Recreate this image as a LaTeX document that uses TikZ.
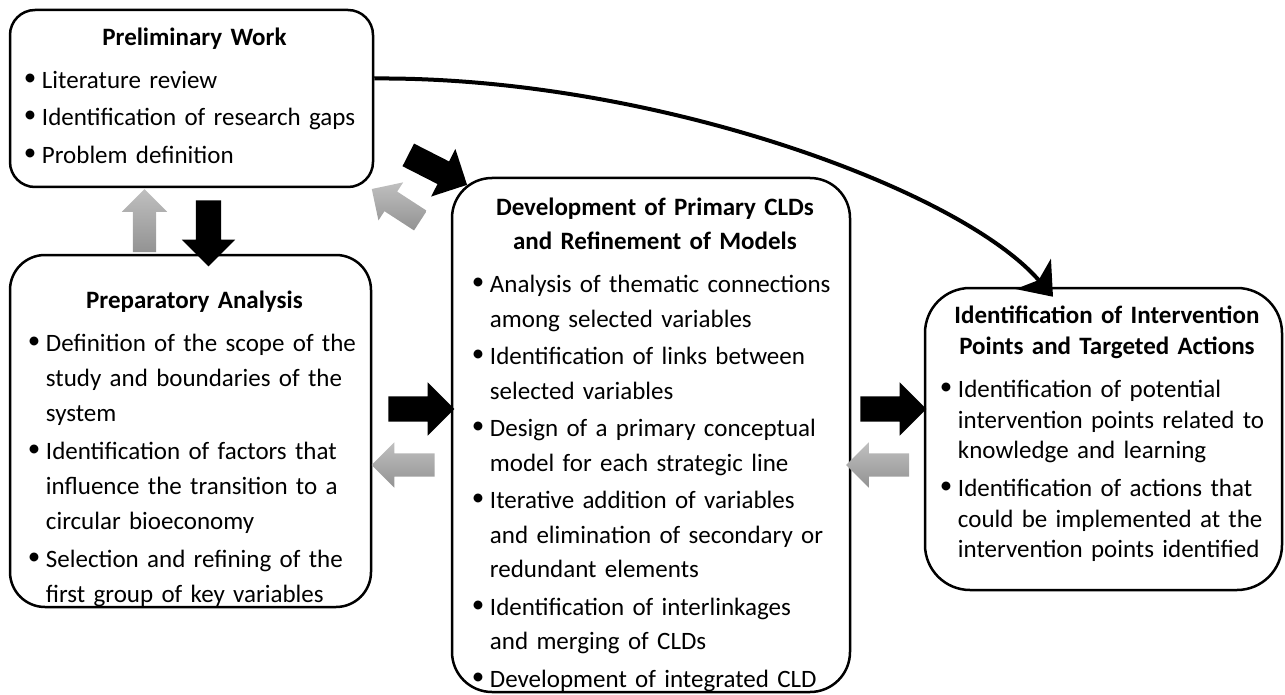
\documentclass[tikz,border=0pt]{standalone}
\usepackage{fontspec}
\setmainfont{Carlito}
\usetikzlibrary{calc}
\usetikzlibrary{positioning}
\usetikzlibrary{shapes.arrows,arrows.meta}

\newcommand{\itm}[1]{\hangindent=18pt\hangafter=1\noindent\makebox[18pt][l]{\raisebox{3pt}{\textbullet}}#1\par}
\newcommand{\boxtitle}[1]{{\centering\bfseries\setlength{\parskip}{0pt}#1\par}\vspace{5.5pt}}

\tikzset{
  box/.style={draw, line width=2.5pt, rounded corners=#1, inner sep=0pt},
  body/.style={inner sep=0pt, font=\fontsize{25}{#1}\selectfont,
    execute at begin node={\raggedright\setlength{\parskip}{3pt}}},
  body/.default=34.5pt,
  blkarrow/.style={single arrow, fill=black, inner sep=0pt, minimum height=66pt,
    text height=12.5pt, text depth=12.5pt, single arrow head extend=14pt},
  gryarrow/.style={single arrow, top color=gray!50, bottom color=gray!85, inner sep=0pt,
    minimum height=63pt, text height=11.5pt, text depth=11.5pt, single arrow head extend=11pt},
  curve/.style={line width=4pt, -{Stealth[length=30pt, width=46pt, inset=8pt]}}
}

\begin{document}
\begin{tikzpicture}[x=1pt, y=-1pt]
  \useasboundingbox (0,0) rectangle (1285,695);

  % the four stages
  \node[box=25pt, minimum width=363pt, minimum height=177pt] (prelim) at (191.5,98.5) {};
  \node[box=35pt, minimum width=361pt, minimum height=352pt] (prep) at (190.5,431) {};
  \node[box=40pt, minimum width=398pt, minimum height=514pt] (devel) at (651,435) {};
  \node[box=45pt, minimum width=357pt, minimum height=302pt] (ident) at (1103.5,439) {};

  \node[body, text width=341pt, below right=19pt and 15pt of prelim.north west] (prelimtxt) {%
    \boxtitle{Preliminary Work}
    \itm{Literature review}
    \itm{Identification of research gaps}
    \itm{Problem definition}};

  \node[body=35pt, text width=333pt, below right=37pt and 19pt of prep.north west] (preptxt) {%
    \boxtitle{Preparatory Analysis}
    \itm{Definition of the scope of the\newline study and boundaries of the\newline system}
    \itm{Identification of factors that\newline influence the transition to a\newline circular bioeconomy}
    \itm{Selection and refining of the\newline first group of key variables}};

  \node[body, text width=366pt, below right=21pt and 21pt of devel.north west] (develtxt) {%
    \boxtitle{Development of Primary CLDs\par and Refinement of Models}
    \itm{Analysis of thematic connections\newline among selected variables}
    \itm{Identification of links between\newline selected variables}
    \itm{Design of a primary conceptual\newline model for each strategic line}
    \itm{Iterative addition of variables\newline and elimination of secondary or\newline redundant elements}
    \itm{Identification of interlinkages\newline and merging of CLDs}
    \itm{Development of integrated CLD}};

  \node[body=30.5pt, text width=334pt, below right=19pt and 16pt of ident.north west] (identtxt) {%
    \setlength{\parskip}{7.5pt}%
    \boxtitle{Identification of Intervention\par Points and Targeted Actions}
    \itm{Identification of potential\newline intervention points related to\newline knowledge and learning}
    \itm{Identification of actions that\newline could be implemented at the\newline intervention points identified}};

  % block arrows
  \node[gryarrow, rotate=90] (prep2prelim) at (144.5,226.5) {};
  \node[blkarrow, rotate=-90] (prelim2prep) at (208.5,227) {};
  \node[blkarrow, rotate=-27] (prelim2devel) at (432,167) {};
  \node[gryarrow, rotate=147, minimum height=58pt] (devel2prelim) at (401,208) {};
  \node[blkarrow] (prep2devel) at (415,409) {};
  \node[gryarrow, rotate=180] (devel2prep) at (409,465) {};
  \node[blkarrow] (devel2ident) at (887,409) {};
  \node[gryarrow, rotate=180] (ident2devel) at (883.5,465) {};

  % long curved arrow
  \coordinate (curvetip) at ($(ident.north)+(-50.5,10)$);
  \draw[curve] ($(prelim.east)+(0,-20)$) .. controls +(277,-2) and +(-93,-108) .. (curvetip);
\end{tikzpicture}
\end{document}
